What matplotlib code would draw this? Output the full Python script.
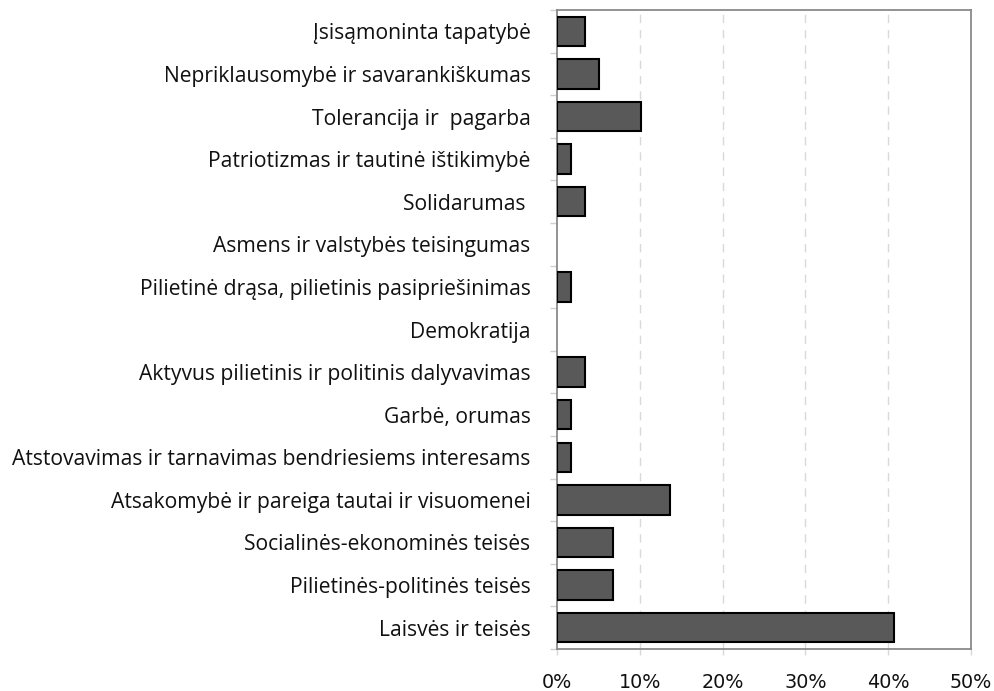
import matplotlib
matplotlib.use('Agg')
import matplotlib.pyplot as plt
import numpy as np

# categories top to bottom
labels = ['Įsisąmoninta tapatybė',
          'Nepriklausomybė ir savarankiškumas',
          'Tolerancija ir  pagarba',
          'Patriotizmas ir tautinė ištikimybė',
          'Solidarumas ',
          'Asmens ir valstybės teisingumas',
          'Pilietinė drąsa, pilietinis pasipriešinimas',
          'Demokratija',
          'Aktyvus pilietinis ir politinis dalyvavimas',
          'Garbė, orumas',
          'Atstovavimas ir tarnavimas bendriesiems interesams',
          'Atsakomybė ir pareiga tautai ir visuomenei',
          'Socialinės-ekonominės teisės',
          'Pilietinės-politinės teisės',
          'Laisvės ir teisės']
values = [3.4, 5.1, 10.2, 1.7, 3.4, 0.0, 1.7, 0.0, 3.4, 1.7, 1.7, 13.6, 6.8, 6.8, 40.7]
xticks = [0, 10, 20, 30, 40, 50]
xticklabels = ['0%', '10%', '20%', '30%', '40%', '50%']

fig = plt.figure(figsize=(9.95, 6.91), dpi=100)
ax = fig.add_axes([0.5598, 0.0608, 0.4161, 0.9247])

n = len(labels)
ypos = np.arange(n)[::-1]
vals = np.array(values)
edges = ['black' if v > 0 else 'none' for v in vals]
ax.barh(ypos, vals, height=0.69, color='#595959', edgecolor=edges, linewidth=1.5, zorder=3)

ax.set_xlim(0, 50)
ax.set_ylim(-0.5, n - 0.5)
ax.set_xticks(xticks)
ax.set_xticklabels(xticklabels, fontsize=13.8, family='DejaVu Sans', color='#111111')
ax.set_yticks(ypos)
ax.set_yticklabels(labels, fontsize=15.2, family='Open Sans', color='#111111')
ax.set_yticks(np.arange(n + 1) - 0.5, minor=True)

ax.tick_params(axis='y', which='major', length=0, pad=19)
ax.tick_params(axis='y', which='minor', length=5, color='#d0d0d0', width=1)
ax.tick_params(axis='x', which='major', length=4, color='#d8d8d8', width=1, pad=13)

for x in xticks[1:-1]:
    ax.axvline(x, color='#d9d9d9', linestyle=(0, (6, 5)), linewidth=1, zorder=1)

for side in ['left', 'bottom', 'top', 'right']:
    ax.spines[side].set_color('#8a8a8a')
    ax.spines[side].set_linewidth(1.3)

plt.savefig('out.png', dpi=100)
